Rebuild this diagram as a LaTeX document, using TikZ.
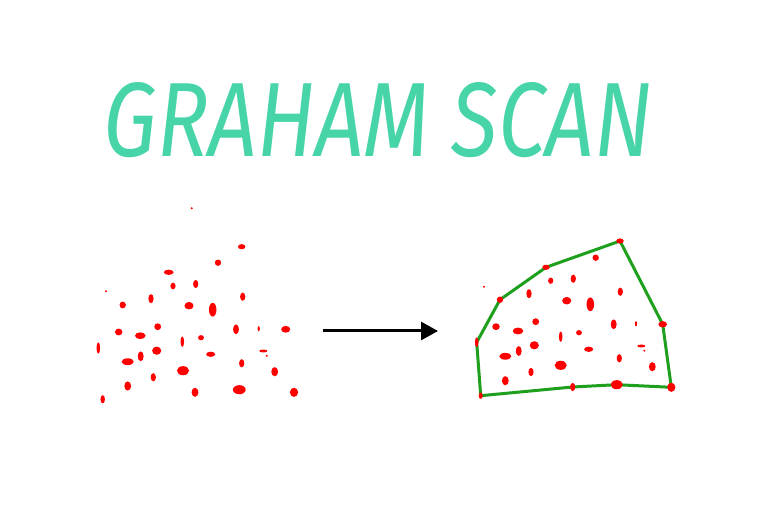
\documentclass[tikz,border=0pt]{standalone}
\usepackage{fontspec}
\usepackage{graphicx}
\newfontfamily\titlefont{Fira Sans}
\usetikzlibrary{arrows.meta}
\definecolor{titlegreen}{RGB}{70,212,168}
\definecolor{hullgreen}{RGB}{30,160,30}

\begin{document}
\begin{tikzpicture}[x=1pt, y=-1pt,
  dot/.style={fill=red},
  hull/.style={draw=hullgreen, line width=3pt, line join=round},
  arr/.style={-{Triangle[length=17pt,width=18pt]}, line width=3pt, black},
  title/.style={text=titlegreen, inner sep=0pt}
]
\useasboundingbox (0,0) rectangle (779,510);

\node[title] (title) at (378,120) {\resizebox{548pt}{74pt}{\titlefont\itshape GRAHAM SCAN}};

% input point set
\foreach \x/\y/\rx/\ry in {191.7/208.3/0.7/0.7, 241.7/246.7/3/2, 218/262.7/2.5/2.5, 168.7/272.3/4/2,
  173/286/2/2.7, 195.7/284/2/3.3, 106/291.3/0.7/0.7, 151/298.7/2/3.7, 242.7/296.7/2/3.3,
  122.7/305/2.5/2.7, 189/305.7/3.7/3, 212.7/309.7/3/5.7, 157.7/326.7/2.7/2.7, 118.7/332/3/2.7,
  140.3/335.7/4.3/2.7, 236/329.3/2.3/4, 258.7/328.7/0.7/2, 285.7/329.3/3.7/2.7, 182.3/341.7/1.3/4.3,
  201/337.7/2.3/2, 98.3/348/1.3/4.7, 156.7/350.7/3.7/3.3, 140.7/356.3/2.3/4, 127.7/361.7/5/2.7,
  210.7/354.3/3.7/2, 263.3/351/3.3/1, 266.7/355.7/0.7/0.7, 241.7/363.3/2/3.3, 183/370.7/5/3.7,
  153.3/377.3/2/3.3, 274.7/371.7/2.7/3.7, 127.7/386/2.7/3.7, 195/392.3/2.7/3.7, 239.3/389.7/5.3/3.7,
  294/392.3/3.3/3.7, 102.7/399.3/1.7/3.3}
  \fill[dot] (\x,\y) ellipse [x radius=\rx*1.15+0.3, y radius=\ry*1.15+0.3];

\coordinate (from) at (323,331);
\coordinate (to) at (438,331);
\draw[arr] (from) -- (to);

% hull corners
\coordinate (h1) at (620,241);
\coordinate (h2) at (546,267.3);
\coordinate (h3) at (500,299.7);
\coordinate (h4) at (476.7,342.3);
\coordinate (h5) at (480.7,395.7);
\coordinate (h6) at (572.7,387);
\coordinate (h7) at (616.7,384.7);
\coordinate (h8) at (671.3,387.3);
\coordinate (h9) at (662.7,324.3);

\draw[hull] (h1) -- (h2) -- (h3) -- (h4) -- (h5) -- (h6) -- (h7) -- (h8) -- (h9) -- cycle;

\foreach \x/\y/\rx/\ry in {620/241/3/2, 546/267.3/3/2, 500/299.7/2.5/2.5, 476.7/342.3/1.3/4,
  480.7/395.7/1.5/2.5, 572.7/387/2/3.3, 616.7/384.7/5/3.7, 671.3/387.3/3.3/3.7, 662.7/324.3/3.5/2.5,
  595.7/257.7/2.5/2.5, 550.7/280.7/2/2.5, 573.3/278.7/2/3.3, 484/286.7/0.7/0.7, 529/293.7/2/3.7,
  620.3/291.7/2/3.3, 566.7/300.7/3.7/3, 590.3/304.3/3/5.7, 535.7/321.7/2.7/2.7, 496/326.7/3/2.7,
  518/331/4.3/2.7, 613.7/324.3/2.3/4, 636/323.7/0.7/2, 560.7/336.7/1.3/4.3, 579/332.7/2.3/2,
  534.3/345.3/3.7/3.3, 518.7/351/2.3/4, 505.3/356.3/5/2.7, 588.7/349.3/3.7/2, 641.3/346/3.3/1,
  644.3/350.7/0.7/0.7, 619.3/358.3/2/3.3, 560.7/365.3/5/3.7, 531/372/2/3.3, 652.3/366.7/2.7/3.7,
  505.3/380.7/2.7/3.7}
  \fill[dot] (\x,\y) ellipse [x radius=\rx*1.15+0.3, y radius=\ry*1.15+0.3];

\end{tikzpicture}
\end{document}
